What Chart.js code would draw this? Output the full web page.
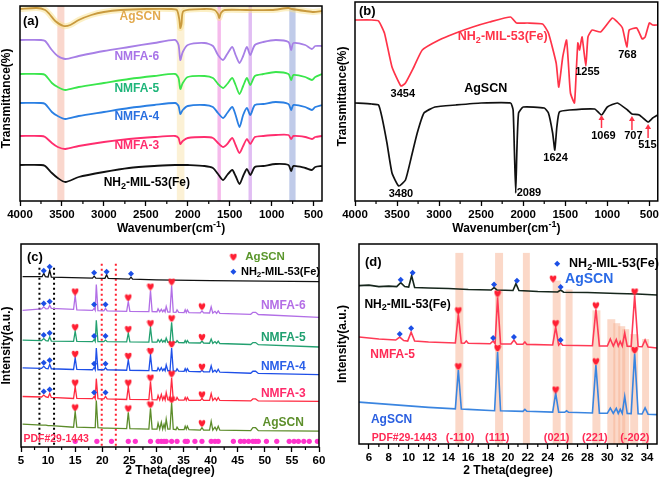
<!DOCTYPE html>
<html>
<head>
<meta charset="utf-8">
<script src="https://cdn.jsdelivr.net/npm/chart.js@4.4.0/dist/chart.umd.min.js"></script>
<style>
  body { margin: 0; background: #fff; }
  #wrap { position: relative; width: 661px; height: 480px; overflow: hidden; }
  #wrap canvas { position: absolute; }
</style>
</head>
<body>
<div id="wrap">
  <canvas id="pa" width="330" height="240" style="left:0;top:0"></canvas>
  <canvas id="pb" width="331" height="240" style="left:330px;top:0"></canvas>
  <canvas id="pc" width="330" height="240" style="left:0;top:240px"></canvas>
  <canvas id="pd" width="331" height="240" style="left:330px;top:240px"></canvas>
</div>
<script>
// ---- (a) FTIR of all samples (offset a.u.) ----
const ftirTicks  = [4000, 3500, 3000, 2500, 2000, 1500, 1000, 500];
const ftirMinor  = [3750, 3250, 2750, 2250, 1750, 1250, 750];

const aWave = [4000, 3750, 3700, 3620, 3550, 3460, 3300, 3000, 2700, 2400,
               2150, 2110, 2089, 2060, 2000, 1800, 1700, 1640, 1580, 1530,
               1470, 1430, 1383, 1340, 1295, 1255, 1200, 1100, 950, 800,
               768, 740, 600, 520, 480, 400];
const aNMFA6 = [161, 161, 160, 151, 145, 142, 145, 150, 154, 158,
                161, 156, 141, 149, 156, 158, 155, 146, 141, 147,
                154, 146, 138, 145, 154, 146, 156, 159, 161, 159,
                151, 158, 156, 152, 155, 155];
const aNMFA5 = [127, 127, 126, 118, 114, 111, 114, 118, 122, 125,
                127, 123, 112, 118, 124, 125, 123, 117, 113, 117,
                123, 116, 107, 115, 123, 116, 125, 127, 129, 127,
                121, 126, 124, 121, 124, 127];
const aNMFA4 = [98, 98, 97, 89, 85, 82, 85, 89, 93, 96,
                98, 95, 87, 91, 95, 96, 94, 88, 83, 88,
                94, 86, 74, 86, 93, 86, 96, 97, 99, 97,
                91, 96, 94, 91, 94, 96];
const aNMFA3 = [65, 65, 64, 58, 54, 52, 55, 59, 62, 64,
                65, 63, 57, 60, 63, 64, 63, 58, 54, 57,
                63, 56, 48, 55, 62, 57, 64, 65, 66, 66,
                62, 65, 64, 62, 64, 65];
const aMIL   = [36, 36, 35, 28, 23, 19, 24, 29, 33, 35,
                36, 36, 36, 36, 36, 35, 33, 27, 21, 26,
                31, 25, 17, 25, 32, 26, 34, 35, 37, 36,
                30, 35, 33, 31, 34, 35];
const aAgWave = [4000, 3800, 3700, 3650, 3580, 3480, 3400, 3300, 3150, 3000,
                 2800, 2500, 2200, 2130, 2100, 2089, 2075, 2050, 1800, 1680,
                 1640, 1624, 1605, 1560, 1300, 1000, 800, 760, 600, 500, 400];
const aAgSCN  = [192, 193, 191, 187, 180, 175, 176, 181, 186, 189,
                 191, 192, 192, 191, 181, 173, 177, 190, 192, 191,
                 187, 183, 188, 191, 191, 191, 193, 192, 190, 189, 190];
// highlighted bands: [from, to, colour]
const aBands = [[3555, 3471, 'rgba(246,175,155,0.5)'], [2130, 2040, 'rgba(250,232,185,0.6)'],
                [1646, 1605, 'rgba(238,140,222,0.6)'], [1276, 1235, 'rgba(205,145,235,0.6)'],
                [790, 715, 'rgba(140,160,215,0.55)']];

// ---- (b) FTIR NH2-MIL-53(Fe) vs AgSCN ----
const bMilWave = [4000, 3800, 3720, 3650, 3560, 3454, 3400, 3300, 3200, 3000,
                  2800, 2600, 2400, 2150, 2080, 1950, 1770, 1700, 1608, 1577,
                  1530, 1485, 1460, 1438, 1391, 1370, 1350, 1330, 1300, 1255,
                  1230, 1180, 1080, 940, 880, 820, 768, 740, 650, 584,
                  550, 500, 460, 400];
const bMil     = [181, 181, 180, 168, 134, 115, 118, 134, 151, 161,
                  168, 174, 179, 184, 178, 178, 177, 168, 138, 114,
                  144, 161, 134, 108, 98, 128, 158, 151, 164, 135,
                  164, 171, 169, 183, 179, 173, 154, 171, 173, 162,
                  164, 178, 176, 176];
const bAgWave  = [4000, 3800, 3720, 3680, 3620, 3560, 3480, 3400, 3330, 3260,
                  3180, 3050, 2800, 2500, 2150, 2120, 2105, 2089, 2075, 2055,
                  2000, 1750, 1700, 1650, 1624, 1600, 1570, 1450, 1150, 1069,
                  1000, 880, 760, 707, 620, 515, 460, 400];
const bAgSCN   = [98, 97, 96, 84, 58, 28, 15, 21, 44, 68,
                  88, 94, 96, 98, 98, 91, 51, 8, 51, 88,
                  94, 93, 88, 68, 51, 74, 89, 91, 92, 86,
                  94, 98, 91, 87, 86, 79, 83, 86];
// arrows: [wavenumber, tail, tip]
const bArrows = [[1069, 73, 86], [707, 71, 85], [515, 63, 77]];

// ---- (c) XRD of all samples ----
const cTicks = [5, 10, 15, 20, 25, 30, 35, 40, 45, 50, 55, 60];
const cMinor = [7.5, 12.5, 17.5, 22.5, 27.5, 32.5, 37.5, 42.5, 47.5, 52.5, 57.5];
const cTheta = [5.3, 8.8, 9.2, 9.6, 10.0, 10.3, 10.6, 14.7, 15.0, 15.3,
                18.2, 18.5, 18.7, 18.9, 19.2, 20.3, 20.6, 20.9, 24.5, 24.8,
                25.1, 28.6, 28.9, 29.2, 30.1, 30.3, 30.6, 30.9, 31.15, 31.4,
                31.6, 31.8, 32.1, 32.5, 32.8, 33.1, 33.6, 33.8, 34.1, 35.1,
                35.3, 35.5, 35.7, 36.0, 38.1, 38.4, 38.7, 39.8, 40.1, 40.4,
                40.8, 41.1, 41.4, 41.7, 47.4, 47.8, 48.3, 48.8, 60];
const cAgSCN = [23, 22, 22, 22, 21.5, 21.5, 21.5, 20, 36, 20,
                19.5, 19.5, 19.5, 47, 19.5, 19, 19, 19, 18.5, 35,
                18.5, 18, 39, 18, 18, 24, 18, 25, 18, 23,
                18.5, 28, 18, 18, 45, 18, 17.5, 20, 17.5, 17.5,
                21, 18, 21, 17.5, 17, 19.5, 17, 17, 26, 17,
                20, 17, 21, 17, 16.5, 19.5, 19.5, 16.5, 16];
const cNMFA3 = [51, 50.5, 52.5, 50.5, 50, 54, 50, 49, 61, 49,
                48.8, 51, 48.8, 69, 48.8, 48.6, 51, 48.6, 48, 61,
                48, 47.8, 66, 47.8, 47.6, 52, 47.6, 53, 47.6, 51,
                47.6, 55, 47.5, 47.5, 70, 47.5, 47.4, 50, 47.4, 47.3,
                50, 47.3, 50, 47.2, 47, 49, 47, 47, 54, 47,
                49.5, 47, 50, 47, 46.5, 48.5, 48.5, 46.5, 46];
const cNMFA4 = [80, 79.5, 81.5, 79.3, 79, 83.5, 79, 78.3, 90, 78.3,
                78, 80.5, 78, 100, 78, 78, 80, 78, 77.5, 88,
                77.5, 77.2, 93, 77.2, 77, 80, 77, 80, 77, 79,
                77, 83, 77, 77, 100, 76.8, 76.7, 79, 76.6, 76.4,
                79, 76.4, 79, 76.3, 76, 77.5, 76, 75.8, 82, 75.7,
                77.5, 75.6, 78.5, 75.5, 74.5, 76.5, 76.5, 74.3, 73];
const cNMFA5 = [108, 107.5, 109.5, 107.3, 107, 111, 107, 106.7, 117, 106.7,
                106.5, 108.5, 106.5, 128, 106.5, 106.4, 108, 106.4, 106.2, 115,
                106.2, 106, 121, 106, 106, 108.5, 106, 108.5, 106, 107.5,
                106, 110, 105.8, 105.8, 126, 105.7, 105.6, 107.5, 105.5, 105.3,
                107.5, 105.3, 107.5, 105.2, 105, 107, 105, 104.8, 109, 104.7,
                106.5, 104.6, 107, 104.5, 103.5, 105.5, 105.5, 103.3, 101];
const cNMFA6 = [138, 139.5, 141.5, 139.5, 139.8, 143, 140, 139, 153, 138.5,
                138, 140, 138, 164, 137.8, 137.5, 140, 137.5, 137, 147,
                137, 136.8, 158, 136.8, 136.6, 139.5, 136.5, 139, 136.5, 138.5,
                136.5, 142, 136.3, 136.3, 163, 136.2, 136, 138.5, 136, 135.8,
                138.5, 135.8, 138.5, 135.7, 135.5, 137.5, 135.4, 135.3, 141.5, 135.2,
                137, 135, 137.5, 134.9, 134, 136, 136, 133.8, 131];
const cMilTheta = [5.3, 8.9, 9.2, 9.5, 10.0, 10.3, 10.6, 18.2, 18.5, 18.8,
                   20.5, 20.8, 21.1, 25.0, 25.3, 25.6, 30, 40, 50, 60];
const cMil      = [172, 172, 175.5, 172, 171.7, 178.5, 171.5, 170.5, 172.5, 170.5,
                   170.3, 174, 170.2, 169.6, 171.5, 169.5, 168.8, 168, 167.5, 167];
const cHearts = [[15, 157], [24.8, 151], [28.9, 162], [32.8, 167], [38.4, 142],
                 [15, 121], [24.8, 119], [28.9, 125], [32.8, 130], [38.4, 111],
                 [15, 94], [24.8, 92], [28.9, 97], [32.8, 104], [38.4, 81],
                 [15, 65], [24.8, 65], [28.9, 70], [32.8, 74], [38.4, 53],
                 [15, 40], [24.8, 39], [28.9, 43], [32.8, 48], [38.4, 24],
                 [44.2, 192]];
const cDiamonds = [[9.2, 178], [10.3, 182], [18.5, 176], [20.8, 177], [25.3, 175],
                   [9.2, 145], [10.3, 147], [18.5, 144], [20.6, 144],
                   [9.2, 113], [10.3, 115], [18.5, 112], [20.6, 112],
                   [9.2, 85], [10.3, 87.5], [18.5, 84], [20.6, 84],
                   [9.2, 56], [10.3, 58], [18.5, 55], [20.6, 55],
                   [44.2, 177]];
const cPdf = [15.0, 19.0, 21.7, 24.8, 26.1, 28.9, 30.3, 30.9, 31.4, 31.8, 32.8, 33.8,
              35.3, 35.7, 37.1, 38.4, 40.1, 40.8, 41.4, 44.2, 45.5, 46.2, 47.0, 47.8,
              48.3, 48.8, 50.3, 52.2, 54.5, 55.4, 56.2, 57.2, 58.2, 59.7];
// dotted guide lines: [2theta, top, colour]
const cGuides = [[8.4, 181, '#000'], [11.1, 181, '#000'], [19.9, 185, '#ff2030'], [22.5, 185, '#ff2030']];

// ---- (d) XRD NH2-MIL-53(Fe), NMFA-5, AgSCN ----
const dTicks = [6, 8, 10, 12, 14, 16, 18, 20, 22, 24, 26, 28, 30, 32, 34];
const dMinor = [7, 9, 11, 13, 15, 17, 19, 21, 23, 25, 27, 29, 31, 33];
const dMil = [[5, 160], [6, 160.5], [7, 159], [8, 159.5], [8.8, 159], [9.2, 163], [9.6, 159],
              [10.0, 158.5], [10.3, 170], [10.6, 158], [12, 157.5], [14, 157], [16, 156],
              [18.3, 155.5], [18.6, 158], [18.9, 155.5], [20.5, 155], [20.8, 162], [21.1, 155],
              [23, 154], [25.0, 153.5], [25.3, 155.5], [25.6, 153.3], [28, 153], [31, 152],
              [33, 151.5], [35, 150.5]];
const dNMFA5 = [[5, 108], [7, 106], [8.7, 105], [9.1, 108], [9.5, 104.5], [9.9, 104], [10.25, 113],
                [10.6, 104], [12, 103], [14.7, 102], [15.0, 131], [15.3, 102], [15.6, 101.8],
                [15.8, 104], [16, 101.7], [18.2, 101.2], [18.5, 104], [18.7, 101.2], [18.95, 148],
                [19.25, 101], [20.3, 101], [20.6, 105], [20.9, 100.8], [21.5, 100.7], [21.7, 103],
                [21.9, 100.6], [24.5, 100], [24.8, 118], [25.1, 100], [25.3, 102], [25.5, 99.8],
                [28.5, 99.2], [28.85, 136], [29.2, 99.1], [30.0, 99], [30.3, 106], [30.6, 99],
                [30.9, 105.5], [31.1, 99], [31.3, 103.5], [31.5, 99], [31.75, 112], [32.0, 98.8],
                [32.4, 98.6], [32.75, 150], [33.1, 98.5], [33.5, 98.2], [33.8, 105], [34.1, 98], [35, 97]];
const dAgSCN = [[5, 42.3], [6, 41.5], [8, 40], [10, 38.5], [12, 37], [14.7, 35.5], [15.0, 74.7],
                [15.3, 35.3], [16, 35], [18.65, 33.6], [18.95, 93], [19.25, 33.5], [21.5, 33],
                [21.7, 35], [21.9, 33], [24.5, 32.2], [24.8, 51.3], [25.1, 32.1], [25.7, 32],
                [25.9, 33.5], [26.1, 32], [28.5, 31.3], [28.85, 79.7], [29.2, 31.2], [30.0, 31],
                [30.3, 36.3], [30.6, 31], [30.9, 36], [31.1, 30.9], [31.3, 35], [31.5, 30.9],
                [31.75, 48], [32.0, 30.8], [32.4, 30.7], [32.75, 91.3], [33.1, 30.5], [33.5, 30.3],
                [33.8, 36.5], [34.1, 30.1], [35, 29.7]];
const dHearts = [[15.0, 135], [18.95, 152], [24.8, 122], [28.85, 140], [32.75, 154],
                 [15.0, 78.5], [18.95, 97], [24.8, 55], [28.85, 83.5], [32.75, 95]];
const dDiamonds = [[9.2, 166], [10.4, 173], [18.6, 161], [20.9, 165], [25.3, 158.5],
                   [9.1, 111], [10.25, 117], [18.5, 107], [20.6, 108], [25.3, 105],
                   [24.95, 182]];
// reference-peak bands: [from, to, top]
const dBands = [[14.7, 15.5, 193], [18.7, 19.5, 193], [21.5, 22.2, 193], [24.5, 25.3, 165],
                [25.8, 26.5, 156], [28.5, 29.3, 135], [30.0, 30.8, 126], [30.6, 31.3, 122],
                [31.1, 31.8, 119], [31.5, 32.2, 116], [32.3, 33.1, 111], [33.5, 34.2, 106]];

const FONT = '"Liberation Sans", Arial, Helvetica, sans-serif';
Chart.defaults.font.family = FONT;

// text with _{sub} and ^{sup}
const drawRich = (ctx, str, x, y, size, color, align = 'center') => {
  const parts = str.split(/(_\{[^}]*\}|\^\{[^}]*\})/).filter(Boolean).map(p =>
    p.startsWith('_{') ? { t: p.slice(2, -1), dy: size * 0.3, small: true }
    : p.startsWith('^{') ? { t: p.slice(2, -1), dy: -size * 0.38, small: true }
    : { t: p, dy: 0, small: false });
  const big = `bold ${size}px ${FONT}`;
  const sml = `bold ${Math.round(size * 0.72)}px ${FONT}`;
  let total = 0;
  parts.forEach(p => { ctx.font = p.small ? sml : big; p.w = ctx.measureText(p.t).width; total += p.w; });
  let cx = align === 'left' ? x : align === 'right' ? x - total : x - total / 2;
  ctx.fillStyle = color;
  ctx.textAlign = 'left';
  ctx.textBaseline = 'middle';
  parts.forEach(p => { ctx.font = p.small ? sml : big; ctx.fillText(p.t, cx, y + p.dy); cx += p.w; });
};

const makeHeart = (color, w) => {
  const c = document.createElement('canvas');
  c.width = w; c.height = w;
  const g = c.getContext('2d');
  const s = w / 10;
  g.fillStyle = color;
  g.beginPath();
  g.moveTo(5 * s, 9.6 * s);
  g.bezierCurveTo(0, 6 * s, 0, 0.8 * s, 2.6 * s, 0.8 * s);
  g.bezierCurveTo(4 * s, 0.8 * s, 5 * s, 2 * s, 5 * s, 3 * s);
  g.bezierCurveTo(5 * s, 2 * s, 6 * s, 0.8 * s, 7.4 * s, 0.8 * s);
  g.bezierCurveTo(10 * s, 0.8 * s, 10 * s, 6 * s, 5 * s, 9.6 * s);
  g.fill();
  return c;
};
const heart8  = makeHeart('#ff1f33', 8);

const line = (xs, ys, color, width, tension = 0) => ({
  data: xs.map((x, i) => ({ x, y: ys[i] })),
  borderColor: color, borderWidth: width, pointRadius: 0, tension, fill: false, order: 0
});
const pairLine = (pairs, color, width, tension = 0) => ({
  data: pairs.map(([x, y]) => ({ x, y })),
  borderColor: color, borderWidth: width, pointRadius: 0, tension, fill: false, order: 0
});
const marks = (pairs, style, color, r) => ({
  type: 'scatter',
  data: pairs.map(([x, y]) => ({ x, y })),
  pointStyle: style, pointRadius: r, backgroundColor: color, borderWidth: 0, order: -1
});

// bands, guides, frame, minor ticks, labels and titles
const decor = (spec) => ({
  id: 'decor',
  beforeDatasetsDraw(chart) {
    const { ctx, chartArea: a, scales: { x, y } } = chart;
    ctx.save();
    ctx.beginPath(); ctx.rect(a.left, a.top, a.right - a.left, a.bottom - a.top); ctx.clip();
    (spec.bands || []).forEach(([x0, x1, top, color]) => {
      const p0 = x.getPixelForValue(x0), p1 = x.getPixelForValue(x1);
      const pt = top == null ? a.top : y.getPixelForValue(top);
      ctx.fillStyle = color;
      ctx.fillRect(Math.min(p0, p1), pt, Math.abs(p1 - p0), a.bottom - pt);
    });
    (spec.guides || []).forEach(([v, top, color]) => {
      const px = x.getPixelForValue(v);
      ctx.strokeStyle = color; ctx.lineWidth = 2; ctx.setLineDash([2, 3]);
      ctx.beginPath(); ctx.moveTo(px, y.getPixelForValue(top)); ctx.lineTo(px, a.bottom); ctx.stroke();
    });
    ctx.restore();
  },
  afterDraw(chart) {
    const { ctx, chartArea: a, scales: { x, y } } = chart;
    ctx.save();
    ctx.strokeStyle = '#000'; ctx.lineWidth = 1.5; ctx.setLineDash([]);
    ctx.strokeRect(a.left, a.top, a.right - a.left, a.bottom - a.top);
    ctx.lineWidth = 1.2;
    (spec.minor || []).forEach(v => {
      const px = x.getPixelForValue(v);
      ctx.beginPath(); ctx.moveTo(px, a.bottom); ctx.lineTo(px, a.bottom + 3); ctx.stroke();
    });
    (spec.arrows || []).forEach(([v, tail, tip]) => {
      const px = x.getPixelForValue(v), py0 = y.getPixelForValue(tail), py1 = y.getPixelForValue(tip);
      ctx.strokeStyle = '#ff3348'; ctx.fillStyle = '#ff3348'; ctx.lineWidth = 1.5;
      ctx.beginPath(); ctx.moveTo(px, py0); ctx.lineTo(px, py1 + 4); ctx.stroke();
      ctx.beginPath(); ctx.moveTo(px, py1); ctx.lineTo(px - 3, py1 + 5); ctx.lineTo(px + 3, py1 + 5); ctx.fill();
    });
    (spec.texts || []).forEach(o =>
      drawRich(ctx, o.t, x.getPixelForValue(o.x), y.getPixelForValue(o.y), o.s || 12, o.c || '#000', o.a || 'center'));
    drawRich(ctx, spec.tag, a.left + spec.tagDx, a.top + spec.tagDy, 13, '#000', 'left');
    drawRich(ctx, spec.xTitle, (a.left + a.right) / 2, spec.xTitleY, 12, '#000');
    ctx.translate(spec.yTitleX, (a.top + a.bottom) / 2 - (spec.yTitleShift || 0));
    ctx.rotate(-Math.PI / 2);
    drawRich(ctx, spec.yTitle, 0, 0, 12, '#000');
    ctx.restore();
  }
});

const makeChart = (id, datasets, o, spec) => new Chart(document.getElementById(id), {
  type: 'line',
  data: { datasets },
  options: {
    responsive: false, animation: false, events: [],
    layout: { padding: o.pad },
    plugins: { legend: { display: false }, tooltip: { enabled: false } },
    scales: {
      x: {
        type: 'linear', min: o.xmin, max: o.xmax, reverse: !!o.reverse,
        afterBuildTicks: s => { s.ticks = o.ticks.map(v => ({ value: v })); },
        afterFit: s => { s.height = o.hx; },
        grid: { display: true, drawOnChartArea: false, drawTicks: true, tickLength: 5,
                tickColor: '#000', tickWidth: 1.3 },
        border: { display: false },
        ticks: { color: '#000', font: { size: 11.5, weight: 'bold' }, padding: 2,
                 maxRotation: 0, autoSkip: false, callback: v => String(v) }
      },
      y: {
        type: 'linear', min: 0, max: o.ymax,
        afterFit: s => { s.width = o.wy; },
        grid: { display: false }, border: { display: false }, ticks: { display: false }
      }
    }
  },
  plugins: [decor(spec)]
});

// (a)
makeChart('pa', [
  line(aWave, aNMFA6, '#a77fe6', 1.8, 0.25),
  line(aWave, aNMFA5, '#3ae64c', 1.8, 0.25),
  line(aWave, aNMFA4, '#2a7fe3', 1.8, 0.25),
  line(aWave, aNMFA3, '#ff2d6e', 1.8, 0.25),
  line(aWave, aMIL, '#111111', 1.8, 0.25),
  line(aAgWave, aAgSCN, '#c99a3e', 1.8, 0.25),
  { ...line(aAgWave, aAgSCN, 'rgba(250,226,140,0.5)', 6, 0.25), order: 5 }
], { pad: { top: 6, right: 8, left: 0, bottom: 0 }, wy: 20, hx: 39, xmin: 400, xmax: 4000,
     reverse: true, ticks: ftirTicks, ymax: 195 },
{ bands: aBands.map(([f, t, c]) => [f, t, null, c]), minor: ftirMinor,
  texts: [
    { t: 'AgSCN', x: 2568, y: 184, c: '#e2aa4e' },
    { t: 'NMFA-6', x: 2608, y: 144, c: '#a874e8' },
    { t: 'NMFA-5', x: 2608, y: 112.5, c: '#1fb57a' },
    { t: 'NMFA-4', x: 2608, y: 84, c: '#2a6fe0' },
    { t: 'NMFA-3', x: 2608, y: 55, c: '#ff2d6e' },
    { t: 'NH_{2}-MIL-53(Fe)', x: 2488, y: 18.5, c: '#000' }
  ],
  tag: '(a)', tagDx: 3, tagDy: 15,
  xTitle: 'Wavenumber(cm^{-1})', xTitleY: 229, yTitle: 'Transmittance(%)', yTitleX: 7, yTitleShift: 5 });

// (b)
makeChart('pb', [
  line(bMilWave, bMil, '#ff3348', 1.7, 0.15),
  line(bAgWave, bAgSCN, '#111111', 1.7, 0.15)
], { pad: { top: 2, right: 2, left: 0, bottom: 0 }, wy: 25, hx: 39, xmin: 400, xmax: 4000,
     reverse: true, ticks: ftirTicks, ymax: 199 },
{ minor: ftirMinor, arrows: bArrows,
  texts: [
    { t: 'NH_{2}-MIL-53(Fe)', x: 2244, y: 164, c: '#ff3348', s: 12.5 },
    { t: '3454', x: 3431, y: 107, s: 11 },
    { t: '1255', x: 1236, y: 129, s: 11 },
    { t: '768', x: 761, y: 146, s: 11 },
    { t: 'AgSCN', x: 2446, y: 112, s: 12.5 },
    { t: '3480', x: 3454, y: 7, s: 11 },
    { t: '2089', x: 1932, y: 8, s: 11 },
    { t: '1624', x: 1615, y: 43, s: 11 },
    { t: '1069', x: 1046, y: 65, s: 11 },
    { t: '707', x: 690, y: 65, s: 11 },
    { t: '515', x: 524, y: 56, s: 11 }
  ],
  tag: '(b)', tagDx: 4, tagDy: 9,
  xTitle: 'Wavenumber(cm^{-1})', xTitleY: 229, yTitle: 'Transmittance(%)', yTitleX: 13, yTitleShift: 5 });

// (c)
makeChart('pc', [
  line(cMilTheta, cMil, '#111111', 1.3),
  line(cTheta, cNMFA6, '#b26fe6', 1.3),
  line(cTheta, cNMFA5, '#23a070', 1.3),
  line(cTheta, cNMFA4, '#1e4fe8', 1.3),
  line(cTheta, cNMFA3, '#ff2a40', 1.3),
  line(cTheta, cAgSCN, '#5c8c2a', 1.3),
  marks(cHearts, heart8, '#ff1f33', 4),
  marks(cDiamonds, 'rectRot', '#1c4fe6', 3),
  marks(cPdf.map(v => [v, 5.7]), 'circle', '#ff33cc', 2.6)
], { pad: { top: 2, right: 11, left: 0, bottom: 0 }, wy: 21, hx: 33, xmin: 5, xmax: 60,
     ticks: cTicks, ymax: 205 },
{ guides: cGuides, minor: cMinor,
  texts: [
    { t: 'NMFA-6', x: 53.4, y: 143, c: '#b46ee6' },
    { t: 'NMFA-5', x: 53.4, y: 110, c: '#20a070' },
    { t: 'NMFA-4', x: 53.4, y: 81, c: '#2a5fe8' },
    { t: 'NMFA-3', x: 53.4, y: 54, c: '#ff2a6a' },
    { t: 'AgSCN', x: 53.4, y: 25, c: '#5d8f2c' },
    { t: 'PDF#29-1443', x: 5.45, y: 8, c: '#ff2a55', a: 'left', s: 10.5 },
    { t: 'AgSCN', x: 46.4, y: 192, c: '#5a962c', a: 'left', s: 11.5 },
    { t: 'NH_{2}-MIL-53(Fe)', x: 45.6, y: 177, c: '#000', a: 'left', s: 11 }
  ],
  tag: '(c)', tagDx: 6, tagDy: 13,
  xTitle: '2 Theta(degree)', xTitleY: 231, yTitle: 'Intensity(a.u.)', yTitleX: 7 });

// (d)
makeChart('pd', [
  pairLine(dMil, '#16261c', 1.6),
  pairLine(dNMFA5, '#ff3a55', 1.6),
  pairLine(dAgSCN, '#3a85e0', 1.6),
  marks(dHearts.concat([[24.54, 167]]), heart8, '#ff1f33', 4),
  marks(dDiamonds, 'rectRot', '#1c4fe6', 3)
], { pad: { top: 2, right: 3, left: 0, bottom: 0 }, wy: 29, hx: 36, xmin: 5, xmax: 35,
     ticks: dTicks, ymax: 202 },
{ bands: dBands.map(([f, t, top]) => [f, t, top, 'rgba(247,178,145,0.5)']), minor: dMinor,
  texts: [
    { t: 'NH_{2}-MIL-53(Fe)', x: 9.89, y: 141, c: '#000' },
    { t: 'NMFA-5', x: 8.38, y: 90, c: '#ff2a55' },
    { t: 'AgSCN', x: 8.28, y: 25, c: '#2a5fe0' },
    { t: 'PDF#29-1443', x: 9.58, y: 6, c: '#ff2a55', s: 10.5 },
    { t: '(-110)', x: 15.18, y: 6, c: '#ff2a55', s: 11 },
    { t: '(111)', x: 18.92, y: 6, c: '#ff2a55', s: 11 },
    { t: '(021)', x: 24.9, y: 6, c: '#ff2a55', s: 11 },
    { t: '(221)', x: 28.75, y: 6, c: '#ff2a55', s: 11 },
    { t: '(-202)', x: 32.77, y: 6, c: '#ff2a55', s: 11 },
    { t: 'NH_{2}-MIL-53(Fe)', x: 26.15, y: 182, c: '#000', a: 'left', s: 12.5 },
    { t: 'AgSCN', x: 25.75, y: 167, c: '#2a6ae6', a: 'left', s: 14 }
  ],
  tag: '(d)', tagDx: 6, tagDy: 18,
  xTitle: '2 Theta(degree)', xTitleY: 231, yTitle: 'Intensity(a.u.)', yTitleX: 13 });
</script>
</body>
</html>
